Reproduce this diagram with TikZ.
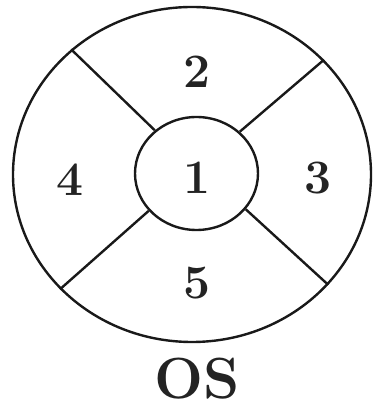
\documentclass[tikz,border=0pt]{standalone}
\usepackage{tikz}
\usetikzlibrary{shapes.geometric}
\definecolor{ZoneLine}{RGB}{ 25, 25, 25}
\definecolor{ZoneText}{RGB}{ 35, 35, 35}
\tikzset{
  % Outer and inner rings of the chart
  ring/.style={
    ellipse, draw=ZoneLine, line width=1.2pt,
    inner sep=0pt
  },
  % Zone numbers
  zonenum/.style={
    font=\fontsize{24}{28}\selectfont\bfseries, text=ZoneText,
    inner sep=0pt
  },
  % Radial dividers
  divider/.style={
    draw=ZoneLine, line width=1.2pt
  }
}

\begin{document}
\begin{tikzpicture}[x=0.5pt, y=0.5pt]
  \useasboundingbox (0,0) rectangle (372,412);

  % ── Rings ─────────────────────────────────────────────────────────────
  \node[ring, minimum width=179pt, minimum height=167.5pt] (outer) at (192,237.5) {};
  \node[ring, minimum width=61.5pt, minimum height=56.5pt] (inner) at (196.5,238.5) {};

  % ── Dividers between the zones ────────────────────────────────────────
  \draw[divider] (inner.134) -- (outer.134);
  \draw[divider] (inner.44)  -- (outer.41.5);
  \draw[divider] (inner.218) -- (outer.221.5);
  \draw[divider] (inner.-36) -- (outer.-39.6);

  % ── Zone numbers ──────────────────────────────────────────────────────
  \node[zonenum] (z1) at (197,234) {1};
  \node[zonenum] (z2) at (197,340) {2};
  \node[zonenum] (z3) at (318,234) {3};
  \node[zonenum] (z4) at (70,232)  {4};
  \node[zonenum] (z5) at (197,129) {5};

  % ── Eye label ─────────────────────────────────────────────────────────
  \node[font=\fontsize{29}{33}\selectfont\bfseries, text=ZoneText,
        inner sep=0pt] (eye) at (197,33) {OS};
\end{tikzpicture}
\end{document}
